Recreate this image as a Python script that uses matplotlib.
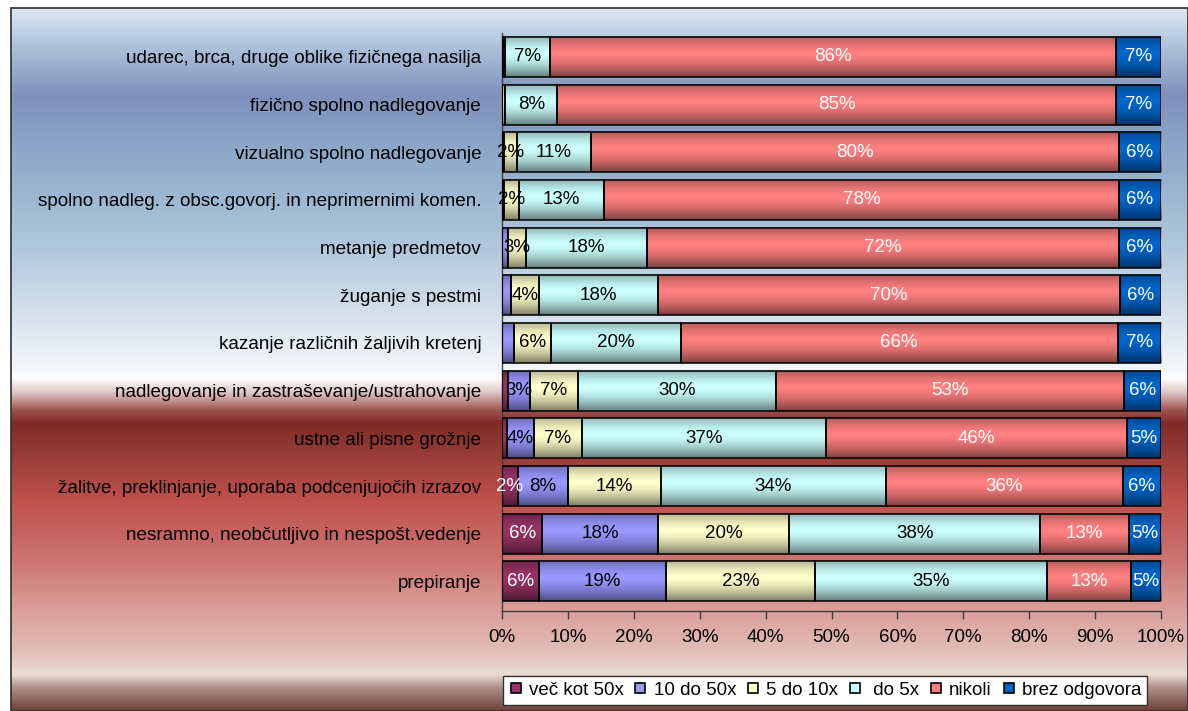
import numpy as np
import matplotlib
matplotlib.use("Agg")
import matplotlib.pyplot as plt
from matplotlib.colors import to_rgb
from matplotlib.patches import Rectangle
from matplotlib.lines import Line2D

plt.rcParams['font.family'] = ['Liberation Sans', 'DejaVu Sans']

categories = [
    "udarec, brca, druge oblike fizičnega nasilja",
    "fizično spolno nadlegovanje",
    "vizualno spolno nadlegovanje",
    "spolno nadleg. z obsc.govorj. in neprimernimi komen.",
    "metanje predmetov",
    "žuganje s pestmi",
    "kazanje različnih žaljivih kretenj",
    "nadlegovanje in zastraševanje/ustrahovanje",
    "ustne ali pisne grožnje",
    "žalitve, preklinjanje, uporaba podcenjujočih izrazov",
    "nesramno, neobčutljivo in nespošt.vedenje",
    "prepiranje",
]

series_names = ["več kot 50x", "10 do 50x", "5 do 10x", " do 5x", "nikoli", "brez odgovora"]

vec_kot_50x   = [0.0, 0.0, 0.0, 0.0, 0.0, 0.0, 0.0, 0.9, 0.8, 2.4, 6.1, 5.6]
od_10_do_50x  = [0.2, 0.0, 0.3, 0.3, 0.9, 1.4, 1.8, 3.3, 4.0, 7.6, 17.6, 19.3]
od_5_do_10x   = [0.3, 0.5, 2.0, 2.3, 2.7, 4.2, 5.6, 7.4, 7.3, 14.1, 19.9, 22.6]
do_5x         = [6.8, 7.9, 11.2, 12.9, 18.4, 18.1, 19.7, 30.0, 37.0, 34.2, 38.1, 35.2]
nikoli        = [85.9, 84.8, 80.1, 78.1, 71.6, 70.1, 66.3, 52.8, 45.8, 35.9, 13.4, 12.7]
brez_odgovora = [6.8, 6.8, 6.4, 6.4, 6.4, 6.2, 6.6, 5.6, 5.1, 5.8, 4.9, 4.6]

series = [vec_kot_50x, od_10_do_50x, od_5_do_10x, do_5x, nikoli, brez_odgovora]
colors = ["#993366", "#9999FF", "#FFFFCC", "#CCFFFF", "#FF8080", "#0066CC"]
label_colors = ["white", "black", "black", "black", "white", "white"]
xticks = [0, 10, 20, 30, 40, 50, 60, 70, 80, 90, 100]

W, H = 1188, 711
fig = plt.figure(figsize=(W / 100, H / 100), dpi=100)
fig.patch.set_facecolor("white")

# background gradient
bg = fig.add_axes([0, 0, 1, 1], zorder=-5)
bg.set_xlim(0, W)
bg.set_ylim(H, 0)
bg.axis("off")
stops = [
    (8, '#dde9f3'), (40, '#b4c8de'), (95, '#8090bb'), (150, '#8ca8c8'),
    (250, '#b2c8dc'), (320, '#d8e3ee'), (370, '#f4f7fa'), (378, '#ffffff'),
    (392, '#e0c8c8'), (410, '#a05550'), (423, '#7f2b26'), (450, '#933a35'),
    (500, '#bf514c'), (560, '#cc7470'), (605, '#d99a96'), (650, '#e2bcb6'),
    (675, '#e9dbd3'), (688, '#b09088'), (711, '#6e4038'),
]
ys = np.arange(8, H + 1)
sy = np.array([s[0] for s in stops], float)
sc = np.array([to_rgb(s[1]) for s in stops])
grad = np.stack([np.interp(ys, sy, sc[:, k]) for k in range(3)], axis=1)
img = np.repeat(grad[:, None, :], 2, axis=1)
bg.imshow(img, extent=(11, W, H, 8), aspect="auto", interpolation="bilinear")
bg.add_patch(Rectangle((11, 8), W - 11, H - 8, fill=False, ec="#303030", lw=1.2))

# main axes
ax = fig.add_axes([502 / W, 1 - 611 / H, (1161 - 502) / W, (611 - 33) / H])
ax.set_facecolor("none")
n = len(categories)
y = np.arange(n)
bh = 0.84
left = np.zeros(n)
for vals, col in zip(series, colors):
    vals = np.array(vals)
    ax.barh(y, vals, left=left, height=bh, color=col, edgecolor="none", zorder=2)
    left += vals

# shading overlay for cylinder-like look
t = np.linspace(0, 1, 40)
alpha = 0.5 * (np.abs(t - 0.42) / 0.58) ** 1.5
shade = np.zeros((40, 2, 4))
shade[:, :, 3] = alpha[:, None]
left = np.zeros(n)
for vals in series:
    for i, v in enumerate(vals):
        if v > 0:
            ax.imshow(shade, extent=(left[i], left[i] + v, y[i] + bh / 2, y[i] - bh / 2),
                      aspect="auto", zorder=3, interpolation="bilinear")
    left += np.array(vals)

left = np.zeros(n)
for k, vals in enumerate(series):
    vals = np.array(vals)
    ax.barh(y, vals, left=left, height=bh, fill=False, edgecolor="black", lw=1.1, zorder=4)
    for i, v in enumerate(vals):
        if v >= 1.95:
            ax.text(left[i] + v / 2, y[i], f"{int(round(v))}%", ha="center", va="center",
                    color=label_colors[k], fontsize=13.5, zorder=5)
    left += vals

ax.set_xlim(0, 100)
ax.set_ylim(11.62, -0.5)
ax.set_xticks(xticks)
ax.set_xticklabels([f"{v}%" for v in xticks], fontsize=13.5)
ax.set_yticks(y)
ax.set_yticklabels(categories, fontsize=13.6)
ax.tick_params(axis="y", length=0, pad=15)
ax.tick_params(axis="x", direction="out", length=6, width=1, color="#404040", pad=7)
for s in ["top", "right"]:
    ax.spines[s].set_visible(False)
for s in ["left", "bottom"]:
    ax.spines[s].set_color("#404040")
    ax.spines[s].set_linewidth(1.0)

handles = [Line2D([], [], marker="s", ls="none", markersize=7.5, markerfacecolor=c,
                  markeredgecolor="black", markeredgewidth=1.2) for c in colors]
leg = fig.legend(handles, series_names, loc="lower left", bbox_to_anchor=(494 / W, -3 / H),
                 ncol=6, fontsize=13.5, frameon=True, fancybox=False, borderpad=0.3,
                 handlelength=0.7, handletextpad=0.35, columnspacing=0.55)
leg.get_frame().set_edgecolor("#303030")
leg.get_frame().set_facecolor("white")
leg.get_frame().set_alpha(1)
leg.get_frame().set_linewidth(1.0)

fig.savefig("out.png", dpi=100)
